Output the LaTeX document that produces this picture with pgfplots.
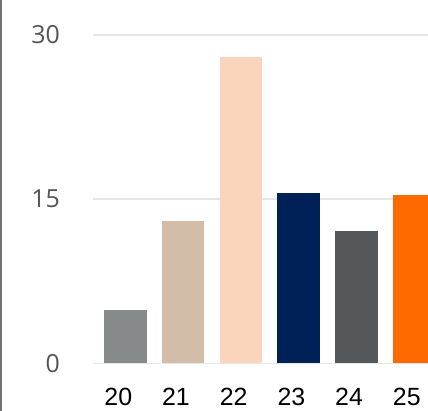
\documentclass[border=0pt]{standalone}
\usepackage{pgfplots}
\pgfplotsset{compat=1.18}
\usepackage{fontspec}
\setmainfont{Liberation Sans}
\newfontfamily\yfont{Open Sans}
\definecolor{c20}{HTML}{878A8A}
\definecolor{c21}{HTML}{D3BCA8}
\definecolor{c22}{HTML}{FAD5BB}
\definecolor{c23}{HTML}{002058}
\definecolor{c24}{HTML}{54585A}
\definecolor{c25}{HTML}{FF6A00}
\definecolor{gridgray}{HTML}{E6E6E6}
\definecolor{ytxt}{HTML}{555555}
\begin{document}
\begin{tikzpicture}[x=1bp,y=1bp]
\begin{axis}[
  at={(0,0)}, anchor=south west,
  scale only axis, width=335.3bp, height=363.3bp,
  xmin=19.432, xmax=25.243, ymin=0, ymax=33.2,
  axis line style={draw=none},
  major tick length=0pt,
  tick style={draw=none},
  ytick={0,15,30},
  xtick={20,21,22,23,24,25},
  ymajorgrids,
  grid style={color=gridgray, line width=1.6bp},
  /pgf/number format/assume math mode=true,
  yticklabel style={font=\yfont\fontsize{25}{25}\selectfont, text=ytxt, anchor=east, inner sep=0pt, xshift=-32.7bp},
  xticklabel style={font=\fontsize{25}{25}\selectfont, text=black, anchor=north west, inner sep=0pt, xshift=-21.25bp, yshift=-24.5bp},
  ybar, bar width=42.5bp, bar shift=0pt,
  every axis plot/.append style={draw=none},
]
\addplot[fill=c20] coordinates {(20,4.9)};
\addplot[fill=c21] coordinates {(21,13.0)};
\addplot[fill=c22] coordinates {(22,27.95)};
\addplot[fill=c23] coordinates {(23,15.55)};
\addplot[fill=c24] coordinates {(24,12.05)};
\addplot[fill=c25] coordinates {(25,15.4)};
\end{axis}
\pgfresetboundingbox
\useasboundingbox (-92.7,-47.7) rectangle (335.3,363.3);
\draw[color=black!55, line width=1.6bp] (-91.8,-47.7) -- (-91.8,363.3);
\end{tikzpicture}
\end{document}
